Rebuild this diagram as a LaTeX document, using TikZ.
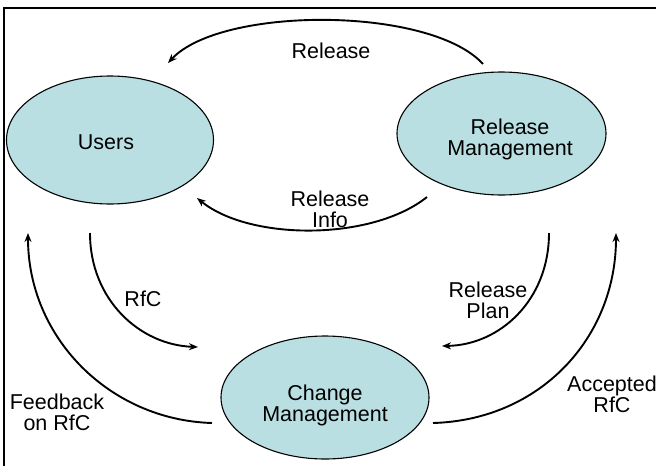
\documentclass[tikz,border=0pt]{standalone}
\usepackage{fontspec}
\setmainfont{Liberation Sans}
\usetikzlibrary{shapes.geometric,arrows.meta}
\definecolor{procfill}{RGB}{185,223,227}
\tikzset{
  process/.style={ellipse, draw=black, line width=1.1pt, fill=procfill,
    inner sep=0pt, align=center, text=black},
  flow/.style={line width=1.9pt, -{Stealth[length=9pt,width=7pt]}},
  lbl/.style={align=center, inner sep=0pt, text=black},
  frame/.style={line width=1.6pt}
}
\begin{document}
\begin{tikzpicture}[x=1pt, y=-1pt,
  every node/.append style={font=\fontsize{21.5}{21}\selectfont}]
\useasboundingbox (0,0) rectangle (656,466);

% open frame: top and left edges only
\coordinate (ftr) at (656,8);
\coordinate (ftl) at (3,8);
\coordinate (fbl) at (4,466);
\draw[frame] (ftr) -- (ftl) -- (4,8) -- (fbl);

% the three processes
\node[process, minimum width=207pt, minimum height=128pt] (users) at (110,140) {};
\node[lbl] at (106,142) {Users};
\node[process, minimum width=209pt, minimum height=123pt] (relmgmt) at (501.5,133.5) {};
\node[lbl] (relmgmttext) at (510,139.5) {Release\\Management};
\node[process, minimum width=208pt, minimum height=123pt] (chgmgmt) at (325,397.5) {};
\node[lbl] (chgmgmttext) at (325,405) {Change\\Management};

% end points of the flows
\coordinate (relS) at (483,64);
\coordinate (relE) at (168,63);
\coordinate (infoS) at (427,197);
\coordinate (infoE) at (197,198);
\coordinate (rfcS) at (90,233);
\coordinate (rfcE) at (198,347);
\coordinate (fbS) at (212,423);
\coordinate (fbE) at (28,233);
\coordinate (planS) at (549,233);
\coordinate (planE) at (442,346);
\coordinate (accS) at (433,423);
\coordinate (accE) at (616,233);

% flows
\draw[flow] (relS) .. controls (430,6) and (221,6) .. (relE);
\draw[flow] (infoS) .. controls (372,241) and (250,241) .. (infoE);
\draw[flow] (rfcS) .. controls (90,300) and (140,345) .. (rfcE);
\draw[flow] (fbS) .. controls (110,420) and (28,338) .. (fbE);
\draw[flow] (planS) .. controls (549,300) and (500,345) .. (planE);
\draw[flow] (accS) .. controls (540,420) and (616,338) .. (accE);

% flow labels
\node[lbl] (relLbl) at (331,51) {Release};
\node[lbl] (infoLbl) at (330,209) {Release\\Info};
\node[lbl] (rfcLbl) at (143,299) {RfC};
\node[lbl] (fbLbl) at (57,412) {Feedback\\on RfC};
\node[lbl] (planLbl) at (488,300) {Release\\Plan};
\node[lbl] (accLbl) at (612,394) {Accepted\\RfC};
\end{tikzpicture}
\end{document}
